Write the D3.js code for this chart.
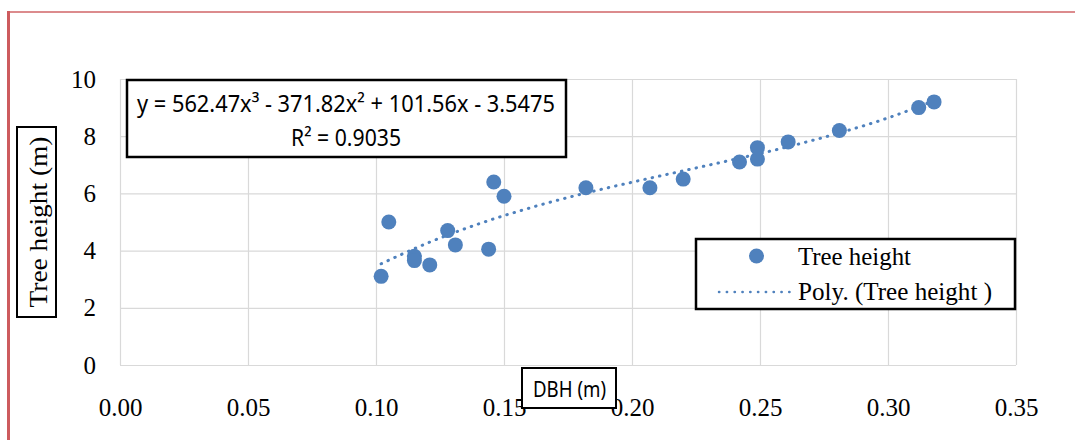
<!DOCTYPE html>
<html>
<head>
<meta charset="utf-8">
<script src="https://cdn.jsdelivr.net/npm/d3@7"></script>
<style>
  body { margin: 0; background: #fff; }
  svg { display: block; }
  .tick text { font-family: "Liberation Serif", "Times New Roman", serif; font-size: 25px; fill: #000; }
</style>
</head>
<body>
<div id="chart"></div>
<script>
// DBH (m) vs tree height (m)
var dbh    = [0.102, 0.105, 0.115, 0.115, 0.121, 0.128, 0.131, 0.144, 0.146, 0.150,
              0.182, 0.207, 0.220, 0.242, 0.249, 0.249, 0.261, 0.281, 0.312, 0.318];
var height = [3.1, 5.0, 3.8, 3.65, 3.5, 4.7, 4.2, 4.05, 6.4, 5.9,
              6.2, 6.2, 6.5, 7.1, 7.2, 7.6, 7.8, 8.2, 9.0, 9.2];

// poly trend line as drawn in the picture
var trendX = [0.102, 0.12, 0.14, 0.16, 0.18, 0.20, 0.22, 0.24, 0.26, 0.28, 0.30, 0.318];
var trendY = [3.54, 4.26, 4.93, 5.49, 5.97, 6.39, 6.79, 7.19, 7.61, 8.09, 8.64, 9.24];

var xTicks = [0, 0.05, 0.10, 0.15, 0.20, 0.25, 0.30, 0.35];
var yTicks = [0, 2, 4, 6, 8, 10];

var eqText = "y = 562.47x\u00b3 - 371.82x\u00b2 + 101.56x - 3.5475";
var r2Text = "R\u00b2 = 0.9035";
var legendLabels = ["Tree height", "Poly. (Tree height )"];

var W = 1075, H = 440;
var m = {top: 79, right: 59, bottom: 75, left: 120}; // plot area edges
var pw = W - m.left - m.right, ph = H - m.top - m.bottom;
var blue = "#4f81bd";

var svg = d3.select("#chart").append("svg")
    .attr("width", W).attr("height", H);

svg.append("rect").attr("width", W).attr("height", H).attr("fill", "#fff");

// red frame of the figure (only top and left visible)
svg.append("line").attr("x1", 8.5).attr("x2", W).attr("y1", 12).attr("y2", 12)
    .attr("stroke", "#dc8b8d").attr("stroke-width", 2);
svg.append("line").attr("x1", 8.5).attr("x2", 8.5).attr("y1", 11).attr("y2", H)
    .attr("stroke", "#cd5b5e").attr("stroke-width", 3);

var x = d3.scaleLinear().domain([0, 0.35]).range([m.left, m.left + pw]);
var y = d3.scaleLinear().domain([0, 10]).range([m.top + ph, m.top]);

//grid
var grid = svg.append("g").attr("class", "grid");
grid.append("g")
    .attr("transform", "translate(0," + (m.top + ph) + ")")
    .call(d3.axisBottom(x).tickValues(xTicks).tickSize(-ph).tickFormat(""));
grid.append("g")
    .attr("transform", "translate(" + m.left + ",0)")
    .call(d3.axisLeft(y).tickValues(yTicks).tickSize(-pw).tickFormat(""));
grid.selectAll(".domain").remove();
grid.selectAll("line").attr("stroke", "#d9d9d9").attr("stroke-width", 1.2);

//axis labels
var xAxis = svg.append("g")
    .attr("transform", "translate(0," + (m.top + ph) + ")")
    .call(d3.axisBottom(x).tickValues(xTicks).tickSize(0).tickFormat(d3.format(".2f")));
xAxis.selectAll("text").attr("dy", null).attr("y", 51);

var yAxis = svg.append("g")
    .attr("transform", "translate(96,0)")
    .call(d3.axisLeft(y).tickValues(yTicks).tickSize(0).tickPadding(0));
yAxis.selectAll("text").attr("dy", "0.32em");
svg.selectAll(".domain").remove();

// trend line
var line = d3.line()
    .x(function(d, i) { return x(trendX[i]); })
    .y(function(d) { return y(d); })
    .curve(d3.curveMonotoneX);
svg.append("path")
    .datum(trendY)
    .attr("d", line)
    .attr("fill", "none")
    .attr("stroke", blue)
    .attr("stroke-width", 3)
    .attr("stroke-linecap", "round")
    .attr("stroke-dasharray", "0.5 7");

// points
svg.append("g").selectAll("circle")
    .data(dbh)
    .enter().append("circle")
    .attr("cx", function(d) { return x(d); })
    .attr("cy", function(d, i) { return y(height[i]); })
    .attr("r", 7.5)
    .attr("fill", blue);

// equation box
var eq = svg.append("g");
eq.append("rect").attr("x", 127).attr("y", 80).attr("width", 439).attr("height", 77)
    .attr("fill", "#fff").attr("stroke", "#000").attr("stroke-width", 2.5);
eq.append("text").attr("x", 137).attr("y", 112)
    .attr("textLength", 418).attr("lengthAdjust", "spacingAndGlyphs")
    .style("font-family", "'Noto Sans', 'Open Sans', sans-serif").style("font-size", "23px")
    .text(eqText);
eq.append("text").attr("x", 346).attr("y", 145.5).attr("text-anchor", "middle")
    .attr("textLength", 110).attr("lengthAdjust", "spacingAndGlyphs")
    .style("font-family", "'Noto Sans', 'Open Sans', sans-serif").style("font-size", "23px")
    .text(r2Text);

// y title
svg.append("rect").attr("x", 17).attr("y", 127).attr("width", 39).attr("height", 190)
    .attr("fill", "#fff").attr("stroke", "#000").attr("stroke-width", 2);
svg.append("text")
    .attr("transform", "translate(46.5,222) rotate(-90)")
    .attr("text-anchor", "middle")
    .attr("textLength", 171).attr("lengthAdjust", "spacingAndGlyphs")
    .style("font-family", "'Liberation Serif', 'Times New Roman', serif").style("font-size", "25px")
    .text("Tree height (m)");

// x title
svg.append("rect").attr("x", 522).attr("y", 368).attr("width", 94).attr("height", 40)
    .attr("fill", "#fff").attr("stroke", "#000").attr("stroke-width", 2);
svg.append("text").attr("x", 533).attr("y", 397)
    .attr("textLength", 73).attr("lengthAdjust", "spacingAndGlyphs")
    .style("font-family", "'Noto Sans', 'Open Sans', sans-serif").style("font-size", "21px")
    .text("DBH (m)");

// legend
var lg = svg.append("g");
lg.append("rect").attr("x", 696).attr("y", 239).attr("width", 319).attr("height", 70)
    .attr("fill", "#fff").attr("stroke", "#000").attr("stroke-width", 2.5);
lg.append("circle").attr("cx", 756.5).attr("cy", 256).attr("r", 7.5).attr("fill", blue);
lg.append("line").attr("x1", 719).attr("x2", 790).attr("y1", 292).attr("y2", 292)
    .attr("stroke", blue).attr("stroke-width", 2.5)
    .attr("stroke-linecap", "round").attr("stroke-dasharray", "0.3 7.5");
lg.selectAll("text.lab")
    .data(legendLabels)
    .enter().append("text")
    .attr("class", "lab")
    .attr("x", 798)
    .attr("y", function(d, i) { return i == 0 ? 265 : 300; })
    .attr("textLength", function(d, i) { return i == 0 ? 113 : 194; })
    .attr("lengthAdjust", "spacingAndGlyphs")
    .style("font-family", "'Liberation Serif', 'Times New Roman', serif").style("font-size", "25px")
    .text(function(d) { return d; });
</script>
</body>
</html>
